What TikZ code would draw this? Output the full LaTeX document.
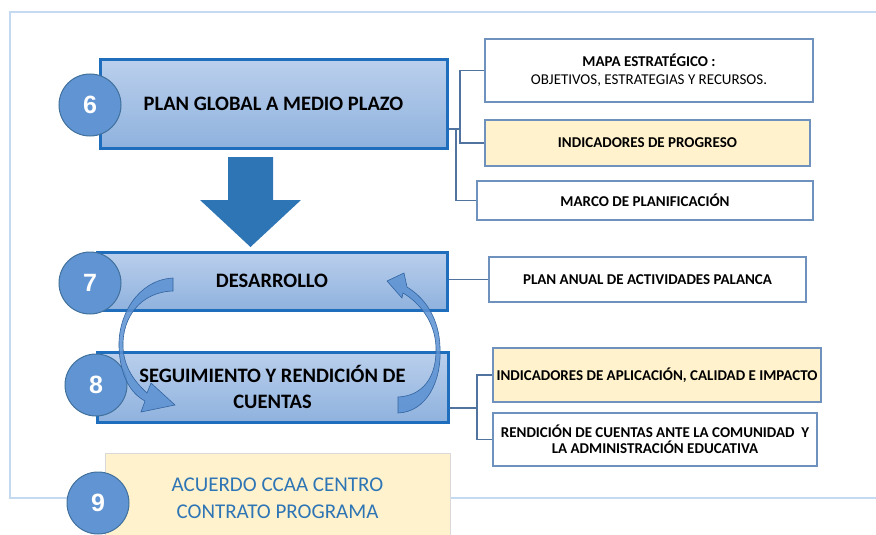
\documentclass[tikz,border=0pt]{standalone}
\usepackage{fontspec}
\setmainfont{Carlito}
\newfontfamily\numfont{Liberation Sans}
\definecolor{mainblue}{RGB}{31,110,190}
\definecolor{mtop}{RGB}{186,207,236}
\definecolor{mbot}{RGB}{143,178,222}
\definecolor{cfill}{RGB}{96,148,210}
\definecolor{cedge}{RGB}{65,113,156}
\definecolor{yel}{RGB}{255,242,204}
\definecolor{sedge}{RGB}{110,145,190}
\definecolor{cline}{RGB}{80,115,160}
\definecolor{framec}{RGB}{197,217,241}
\definecolor{bigarrow}{RGB}{46,117,182}
\definecolor{cycfill}{RGB}{91,145,210}
\definecolor{cycedge}{RGB}{50,100,160}
\definecolor{txtblue}{RGB}{46,117,182}
\begin{document}
\begin{tikzpicture}[x=1pt,y=-1pt,
  mainbox/.style={draw=mainblue, line width=3pt, top color=mtop, bottom color=mbot, inner sep=0pt, align=center, font=\bfseries\fontsize{20.5}{26}\selectfont},
  numcirc/.style={circle, draw=cedge, line width=1pt, fill=cfill, minimum size=62pt, inner sep=0pt, text=white, font=\numfont\bfseries\fontsize{25}{25}\selectfont},
  sidebox/.style={draw=sedge, line width=1.3pt, fill=white, inner sep=0pt, align=center, font=\bfseries\fontsize{15}{18}\selectfont},
  yelbox/.style={sidebox, fill=yel},
  conn/.style={draw=cline, line width=1.3pt},
  cyc/.style={fill=cycfill, fill opacity=0.85, draw=cycedge, line width=0.6pt},
]
\useasboundingbox (0,0) rectangle (876,535);
\clip (0,0) rectangle (876,535);
% frame
\draw[framec, line width=2pt] (876,12) -- (10,12) -- (10,498) -- (876,498);

% box 9
\node[draw=black!15, line width=0.8pt, fill=yel, minimum width=345pt, minimum height=91pt, inner sep=0pt, align=center, text=txtblue, font=\fontsize{21}{27}\selectfont] (b9) at (277.5,498.5) {ACUERDO CCAA CENTRO\\CONTRATO PROGRAMA};

% main boxes
\node[mainbox, minimum width=347pt, minimum height=88pt] (b6) at (273.5,104) {PLAN GLOBAL A MEDIO PLAZO};
\node[mainbox, minimum width=350pt, minimum height=58pt] (b7) at (272,281) {DESARROLLO};
\node[mainbox, minimum width=351pt, minimum height=70pt] (b8) at (272.5,387) {SEGUIMIENTO Y RENDICIÓN DE\\CUENTAS};

% circles
\node[numcirc] (c6) at (90,105) {6};
\node[numcirc] (c7) at (90,283) {7};
\node[numcirc] (c8) at (96,385) {8};
\node[numcirc] (c9) at (98,503) {9};

% big down arrow
\fill[bigarrow] (228,157) -- (273,157) -- (273,200) -- (301,200) -- (250.5,247) -- (200,200) -- (228,200) -- cycle;

% side boxes
\node[sidebox, minimum width=328pt, minimum height=63pt] (s1) at (649,70.5) {MAPA ESTRATÉGICO :\\{\mdseries OBJETIVOS, ESTRATEGIAS Y RECURSOS.}};
\node[yelbox, minimum width=325pt, minimum height=46pt] (s2) at (647.5,143) {INDICADORES DE PROGRESO};
\node[sidebox, minimum width=336pt, minimum height=39pt] (s3) at (645,200.5) {MARCO DE PLANIFICACIÓN};
\node[sidebox, minimum width=317pt, minimum height=45pt] (s4) at (647.5,279.5) {PLAN ANUAL DE ACTIVIDADES PALANCA};
\node[yelbox, minimum width=328pt, minimum height=54pt] (s5) at (657,375) {INDICADORES DE APLICACIÓN, CALIDAD E IMPACTO};
\node[sidebox, minimum width=324pt, minimum height=53pt, font=\bfseries\fontsize{15}{16.5}\selectfont] (s6) at (655,439.5) {RENDICIÓN DE CUENTAS ANTE LA COMUNIDAD \ Y\\LA ADMINISTRACIÓN EDUCATIVA};

% connectors
\coordinate (j6) at (460,129);
\coordinate (j6b) at (456,129);
\draw[conn] (b6.east |- j6) -- (j6);
\draw[conn] (s1.west) -| (j6) |- (s2.west);
\draw[conn] (j6b) |- (s3.west);
\draw[conn] (b7.east |- s4.west) -- (s4.west);
\coordinate (j8) at (477,408);
\draw[conn] (b8.east |- j8) -- (j8);
\draw[conn] (s5.west) -| (j8) |- (s6.west);

% cycle arrows
\filldraw[cyc] (173,278) .. controls (138,280) and (118,315) .. (119,347) .. controls (120,375) and (130,393) .. (145,401) -- (141,412) -- (175,405) -- (151,383) -- (147,393) .. controls (135,382) and (124,368) .. (123,347) .. controls (122,318) and (140,292) .. (173,291) -- cycle;
\filldraw[cyc] (398,413) .. controls (426,412) and (442,382) .. (440,347) .. controls (439,318) and (425,298) .. (407,287) -- (404,273) -- (387,281) -- (402,298) -- (403,293) .. controls (420,303) and (435,322) .. (436,347) .. controls (437,378) and (422,396) .. (398,397) -- cycle;
\end{tikzpicture}
\end{document}
